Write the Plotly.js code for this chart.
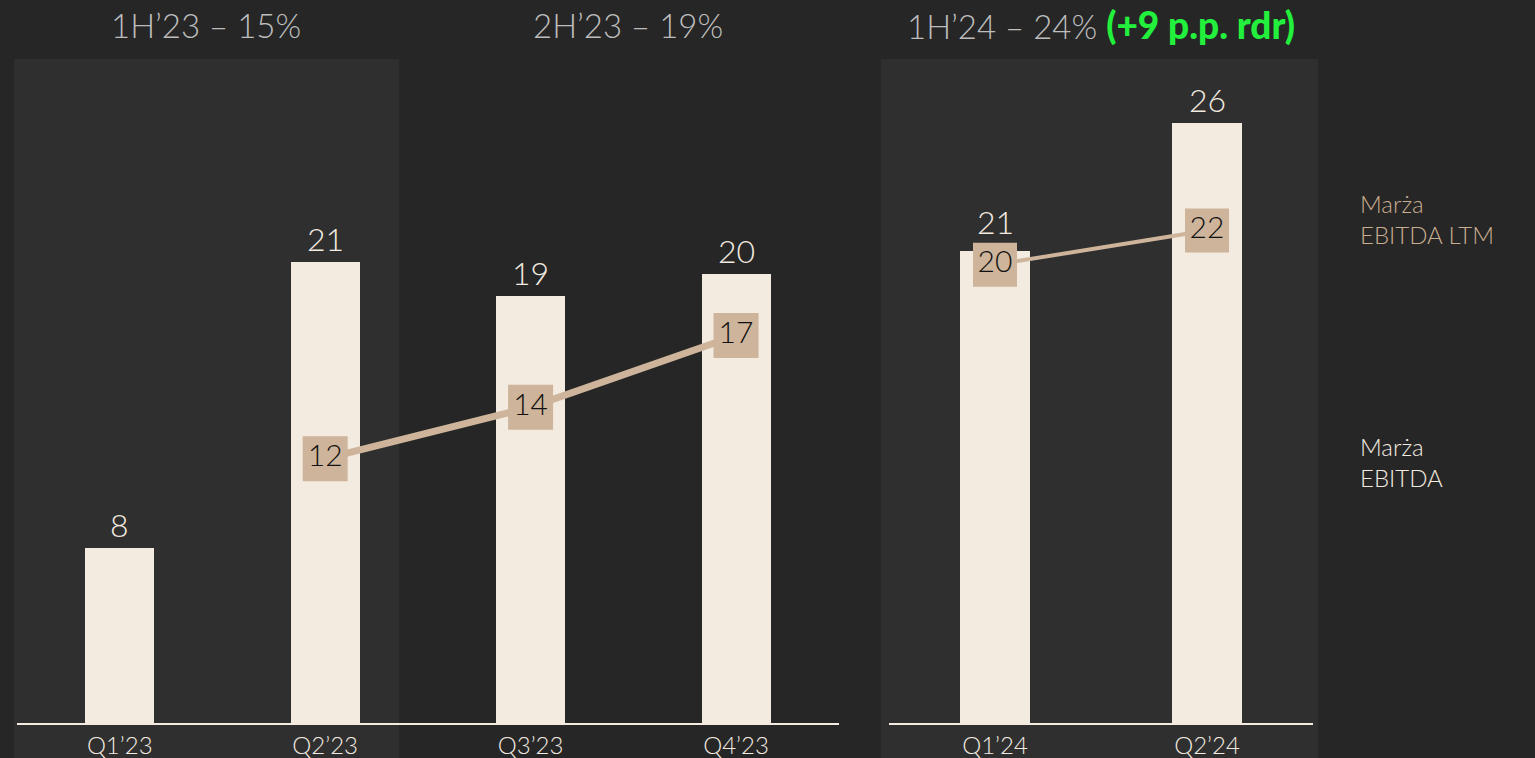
<!DOCTYPE html>
<html>
<head>
<meta charset="utf-8">
<script src="https://cdn.plot.ly/plotly-3.0.1.min.js"></script>
<style>
  html, body { margin: 0; padding: 0; background: #262626; }
  #chart { width: 1535px; height: 758px; }
</style>
</head>
<body>
<div id="chart"></div>
<script>
// ---- Data ----
const quartersLeft = ["Q1’23", "Q2’23", "Q3’23", "Q4’23"];
const ebitdaLeft = [7.8, 20.6, 19.05, 20.05];
const ebitdaLeftLabels = ["8", "21", "19", "20"];
const ltmLeftQuarters = ["Q2’23", "Q3’23", "Q4’23"];
const ltmLeft = [11.8, 14.1, 17.3];
const ltmLeftLabels = ["12", "14", "17"];

const quartersRight = ["Q1’24", "Q2’24"];
const ebitdaRight = [20.7, 26.3];
const ebitdaRightLabels = ["21", "26"];
const ltmRight = [20.1, 21.6];
const ltmRightLabels = ["20", "22"];

const periodTitles = ["1H’23 – 15%", "2H’23 – 19%", "1H’24 – 24%"];
const periodNote = "(+9 p.p. rdr)";
const legendLtm = "Marża<br>EBITDA LTM";
const legendEbitda = "Marża<br>EBITDA";

// ---- Styles ----
const FONT = "Lato, 'Open Sans', sans-serif";
const BG = "#262626";
const PANEL = "#2f2f2f";
const CREAM = "#f3ebe0";
const TAN = "#cdb49a";
const GREY = "#bdbdbd";
const GREEN = "#22f03c";
const W = 1535, H = 758;
const px = v => v / W;
const py = v => (H - v) / H;

const traces = [
  {
    type: "bar", x: quartersLeft, y: ebitdaLeft, xaxis: "x", yaxis: "y",
    width: 0.336, marker: { color: CREAM, line: { width: 0 } }, hoverinfo: "skip"
  },
  {
    type: "scatter", mode: "lines+markers+text", x: ltmLeftQuarters, y: ltmLeft,
    xaxis: "x", yaxis: "y",
    line: { color: TAN, width: 7 },
    marker: { symbol: "square", size: 45, color: TAN, line: { width: 0 } },
    text: ltmLeftLabels, textposition: "middle center",
    textfont: { family: FONT, size: 30, color: "#111111", weight: 300 },
    cliponaxis: false, hoverinfo: "skip"
  },
  {
    type: "bar", x: quartersRight, y: ebitdaRight, xaxis: "x2", yaxis: "y2",
    width: 0.33, marker: { color: CREAM, line: { width: 0 } }, hoverinfo: "skip"
  },
  {
    type: "scatter", mode: "lines+markers+text", x: quartersRight, y: ltmRight,
    xaxis: "x2", yaxis: "y2",
    line: { color: TAN, width: 4 },
    marker: { symbol: "square", size: 44, color: TAN, line: { width: 0 } },
    text: ltmRightLabels, textposition: "middle center",
    textfont: { family: FONT, size: 30, color: "#111111", weight: 300 },
    cliponaxis: false, hoverinfo: "skip"
  }
];

// bar value labels as annotations (built from the data arrays)
const labelShiftLeft = [2, 2, 2, 2];
const labelShiftRight = [8, 2];
const barLabels = [];
quartersLeft.forEach((q, i) => barLabels.push({
  xref: "x", yref: "y", x: q, y: ebitdaLeft[i], yanchor: "bottom", yshift: labelShiftLeft[i],
  text: ebitdaLeftLabels[i], showarrow: false,
  font: { family: FONT, size: 32, color: CREAM, weight: 300 }
}));
quartersRight.forEach((q, i) => barLabels.push({
  xref: "x2", yref: "y2", x: q, y: ebitdaRight[i], yanchor: "bottom", yshift: labelShiftRight[i],
  text: ebitdaRightLabels[i], showarrow: false,
  font: { family: FONT, size: 32, color: CREAM, weight: 300 }
}));

const yBottom = py(723), yTop = py(59);
const axisX = {
  type: "category", showgrid: false, zeroline: false,
  showline: true, linecolor: CREAM, linewidth: 2,
  ticks: "", tickfont: { family: FONT, size: 24, color: CREAM, weight: 300 },
  fixedrange: true
};
const axisY = { showgrid: false, zeroline: false, showline: false, showticklabels: false, fixedrange: true };

const titleFont = { family: FONT, size: 33, color: GREY, weight: 300 };
const legendFontSize = 24;

const layout = {
  width: W, height: H,
  margin: { l: 0, r: 0, t: 0, b: 0 },
  paper_bgcolor: BG, plot_bgcolor: "rgba(0,0,0,0)",
  showlegend: false,
  bargap: 0,
  xaxis: Object.assign({}, axisX, { domain: [px(17), px(838.75)], range: [-0.5, 3.5], anchor: "y" }),
  yaxis: Object.assign({}, axisY, { domain: [yBottom, yTop], range: [0, 664 / 22.4], anchor: "x" }),
  xaxis2: Object.assign({}, axisX, { domain: [px(889), px(1313)], range: [-0.5, 1.5], anchor: "y2" }),
  yaxis2: Object.assign({}, axisY, { domain: [yBottom, yTop], range: [0, 664 / 22.8], anchor: "x2" }),
  shapes: [
    { type: "rect", xref: "paper", yref: "paper", x0: px(14), x1: px(399), y0: 0, y1: py(59),
      fillcolor: PANEL, line: { width: 0 }, layer: "below" },
    { type: "rect", xref: "paper", yref: "paper", x0: px(881), x1: px(1318), y0: 0, y1: py(59),
      fillcolor: PANEL, line: { width: 0 }, layer: "below" }
  ],
  annotations: barLabels.concat([
    { xref: "paper", yref: "paper", x: px(206), y: py(25), xanchor: "center", yanchor: "middle",
      text: periodTitles[0], showarrow: false, font: titleFont },
    { xref: "paper", yref: "paper", x: px(628), y: py(25), xanchor: "center", yanchor: "middle",
      text: periodTitles[1], showarrow: false, font: titleFont },
    { xref: "paper", yref: "paper", x: px(1101), y: py(25), xanchor: "center", yanchor: "middle",
      text: periodTitles[2] + " <span style='color:" + GREEN + ";font-weight:900;font-size:37px'>" + periodNote + "</span>",
      showarrow: false, font: titleFont },
    { xref: "paper", yref: "paper", x: px(1358), y: py(219), xanchor: "left", yanchor: "middle", align: "left",
      text: legendLtm, showarrow: false, font: { family: FONT, size: legendFontSize, color: "#c8ad90", weight: 300 } },
    { xref: "paper", yref: "paper", x: px(1358), y: py(462), xanchor: "left", yanchor: "middle", align: "left",
      text: legendEbitda, showarrow: false, font: { family: FONT, size: legendFontSize, color: CREAM, weight: 300 } }
  ])
};

Plotly.newPlot("chart", traces, layout, { displayModeBar: false, staticPlot: true });
</script>
</body>
</html>
